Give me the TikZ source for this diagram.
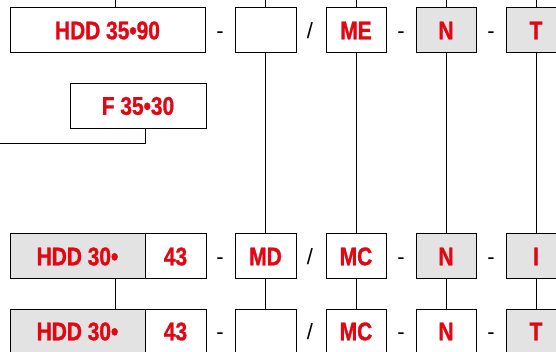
\documentclass[tikz,border=0pt]{standalone}
\usepackage{fontspec}
\setmainfont{Liberation Sans}
\newfontfamily\codefont[FakeStretch=0.82,FakeBold=1.2]{Liberation Sans}
\definecolor{codered}{HTML}{E30613}
\definecolor{boxgrey}{HTML}{E3E3E3}
\tikzset{
  field/.style={draw,minimum height=45pt,minimum width=60pt,inner sep=0pt,
    font=\codefont\bfseries\fontsize{25.5}{26}\selectfont,text=codered},
  shaded/.style={field,fill=boxgrey},
  sepmark/.style={font=\fontsize{22}{22}\selectfont,inner sep=0pt,anchor=base},
}
\begin{document}
\begin{tikzpicture}[x=1pt,y=-1pt,line width=1pt]
  \useasboundingbox (0,0) rectangle (556,352);
  \coordinate (top) at (0,0);
  \coordinate (in1) at (115,0);
  \coordinate (fout) at (0,144);
  % first row
  \node[field,minimum width=195pt] (hdd1) at (107.5,30.5) {HDD 35•90};
  \node[field,minimum width=61pt] (e1) at (265.5,30.5) {};
  \node[field] (me1) at (356,30.5) {ME};
  \node[shaded] (n1) at (446,30.5) {N};
  \node[shaded] (t1) at (536,30.5) {T};
  \node[field,minimum width=136pt] (f2) at (138,106) {F 35•30};
  % third row
  \node[shaded,minimum width=135pt] (hdd3) at (77.5,256.5) {HDD 30•};
  \node[field,minimum width=61pt] (num3) at (175.5,256.5) {43};
  \node[field,minimum width=61pt] (md3) at (265.5,256.5) {MD};
  \node[field] (mc3) at (356,256.5) {MC};
  \node[shaded] (n3) at (446,256.5) {N};
  \node[shaded] (i3) at (536,256.5) {I};
  % fourth row
  \node[shaded,minimum width=135pt] (hdd4) at (77.5,331.5) {HDD 30•};
  \node[field,minimum width=61pt] (num4) at (175.5,331.5) {43};
  \node[field,minimum width=61pt] (e4) at (265.5,331.5) {};
  \node[field] (mc4) at (356,331.5) {MC};
  \node[field] (n4) at (446,331.5) {N};
  \node[shaded] (t4) at (536,331.5) {T};
  \foreach \y/\r in {38.5/1,264.5/3,339.5/4} {
    \node[sepmark] (dasha\r) at (220,\y) {-};
    \node[sepmark] (slash\r) at (310,\y) {/};
    \node[sepmark] (dashb\r) at (401,\y) {-};
    \node[sepmark] (dashc\r) at (491,\y) {-};
  }
  % connectors
  \draw (in1) -- (in1 |- hdd1.north);
  \foreach \n in {e1,me1,n1,t1}
    \draw (\n.north) -- (\n.north |- top);
  \foreach \a/\b in {e1/md3,me1/mc3,n1/n3,t1/i3,md3/e4,mc3/mc4,n3/n4,i3/t4}
    \draw (\a) -- (\b);
  \draw (hdd3.south -| in1) -- (hdd4.north -| in1);
  \draw ([xshift=7pt]f2.south) |- (fout);
\end{tikzpicture}
\end{document}
